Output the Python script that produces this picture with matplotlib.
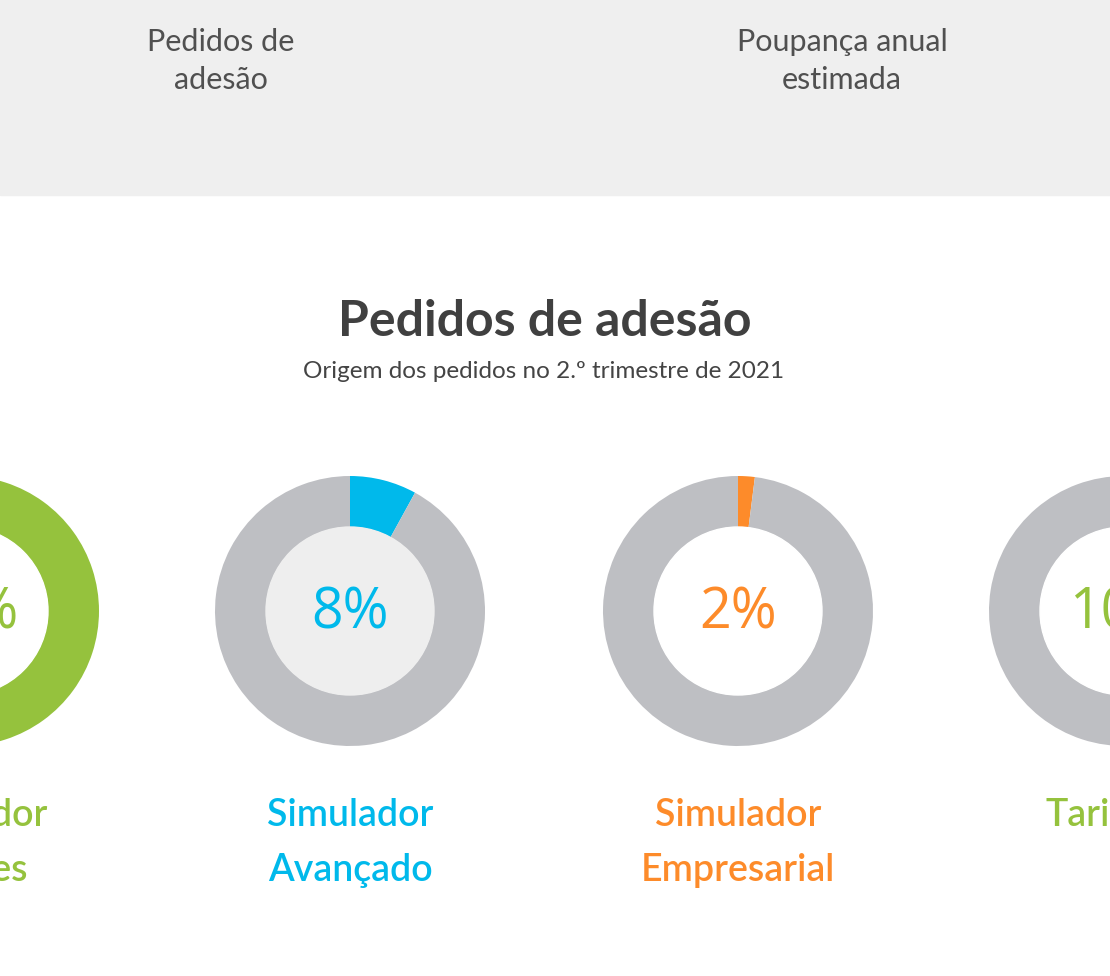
import matplotlib.pyplot as plt

# Donut data (share of requests, %)
labels = ['Simulador\nSimples', 'Simulador\nAvançado', 'Simulador\nEmpresarial', 'Tarifários']
values = [80, 8, 2, 10]
colors = ['#95c23d', '#00b9eb', '#fd8b2a', '#95c23d']
inner_fill = ['#ffffff', '#eeeeee', '#ffffff', '#ffffff']
tabs = ['Pedidos de\nadesão', 'Poupança anual\nestimada']

W, H = 1110, 976
fig = plt.figure(figsize=(W / 100, H / 100), dpi=100)
ax = fig.add_axes([0, 0, 1, 1])

# top tab band
ax.axhspan(H - 195, H, color='#efefef', zorder=0)
tab_x = [221, 842]
for x, t in zip(tab_x, tabs):
    for i, line in enumerate(t.split('\n')):
        ax.text(x, H - 42 - 38 * i, line, ha='center', va='center', fontsize=22,
                family='Lato', color='#505050')

ax.text(545, H - 322, 'Pedidos de adesão', ha='center', va='center', fontsize=36,
        family='Lato', fontweight='bold', color='#404040')
ax.text(544, H - 372, 'Origem dos pedidos no 2.º trimestre de 2021', ha='center',
        va='center', fontsize=17.5, family='Lato', color='#444444')

centers = [-36, 350, 738, 1124]
cy = H - 611
for cx, v, c, f, lab in zip(centers, values, colors, inner_fill, labels):
    ax.pie([v, 100 - v], colors=[c, '#bebfc3'], center=(cx, cy), radius=135,
           startangle=90, counterclock=False, frame=True,
           wedgeprops=dict(width=51, linewidth=0))
    ax.add_patch(plt.Circle((cx, cy), 84, color=f, zorder=3))
    ax.text(cx, cy - 3, f'{v}%', ha='center', va='center', fontsize=40,
            family='Open Sans', color=c, zorder=4)
    for i, line in enumerate(lab.split('\n')):
        ax.text(cx, H - 815 - 55 * i, line, ha='center', va='center', fontsize=27,
                family='Lato', fontweight='semibold', color=c)

ax.set_xlim(0, W)
ax.set_ylim(0, H)
ax.set_aspect('auto')
ax.axis('off')
fig.savefig('out.png', dpi=100, facecolor='white')
